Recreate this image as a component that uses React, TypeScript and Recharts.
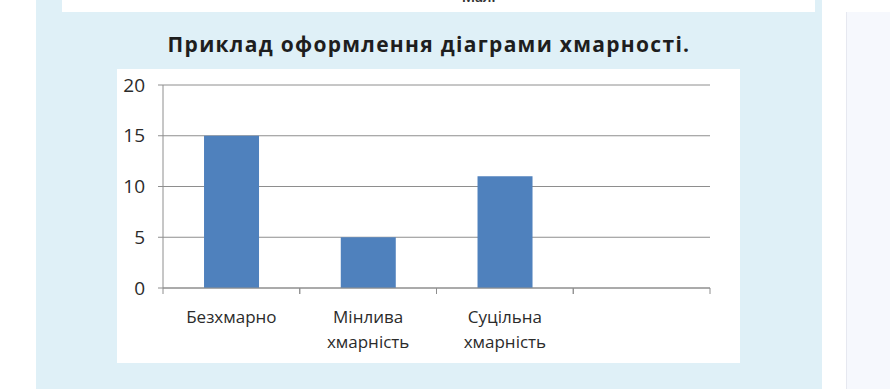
import React from 'react';
import { BarChart, Bar, XAxis, YAxis, CartesianGrid } from 'recharts';

const categories = ['Безхмарно', 'Мінлива хмарність', 'Суцільна хмарність', ''];
const values: (number | null)[] = [15, 5, 11, null];
const yTicks = [0, 5, 10, 15, 20];
const title = 'Приклад оформлення діаграми хмарності.';

const data = categories.map((c, i) => ({ name: c, value: values[i] }));

const CHART_W = 623;
const CHART_H = 294;
const MARGIN = { top: 16, right: 30, left: 0, bottom: 0 };
const Y_W = 46;
const PLOT_W = CHART_W - MARGIN.right - Y_W;
const BAND = PLOT_W / categories.length;
const FONT = '"Open Sans", sans-serif';
const GRID = '#8e8e8e';

const XTick = (props: any) => {
  const { x, y, payload } = props;
  const words = String(payload.value).split(' ').filter((w) => w.length);
  return (
    <g>
      <line x1={x - BAND / 2} x2={x - BAND / 2} y1={y - 8} y2={y - 2} stroke={GRID} />
      <line x1={x + BAND / 2} x2={x + BAND / 2} y1={y - 8} y2={y - 2} stroke={GRID} />
      {words.map((w, i) => (
        <text key={i} x={x} y={y + 27 + i * 25} textAnchor="middle" fontSize={17} fill="#2b2b2b" fontFamily={FONT}>
          {w}
        </text>
      ))}
    </g>
  );
};

export default function App() {
  return (
    <div style={{ position: 'absolute', left: 0, top: 0, width: 890, height: 389, background: '#ffffff', overflow: 'hidden' }}>
      <div style={{ position: 'absolute', left: 36, top: 0, width: 786, height: 389, background: '#dff0f7' }} />
      <div style={{ position: 'absolute', left: 62, top: 0, width: 753, height: 12, background: '#ffffff', overflow: 'hidden' }}>
        <div style={{ position: 'absolute', left: 400, top: -12, fontFamily: 'Inter, sans-serif', fontSize: 14, fontWeight: 600, color: '#333' }}>Мал.</div>
      </div>
      <div style={{ position: 'absolute', left: 846, top: 12, width: 1, height: 377, background: '#e6e8f0' }} />
      <div style={{ position: 'absolute', left: 847, top: 12, width: 43, height: 377, background: '#f6f8fd' }} />
      <div style={{ position: 'absolute', left: 36, top: 29, width: 786, textAlign: 'center', fontFamily: '"Open Sans", sans-serif', fontWeight: 700, fontSize: 21, letterSpacing: 1.3, color: '#1e1e1e', lineHeight: '30px' }}>
        {title}
      </div>
      <div style={{ position: 'absolute', left: 117, top: 69, width: CHART_W, height: CHART_H, background: '#ffffff' }}>
        <BarChart width={CHART_W} height={CHART_H} data={data} margin={MARGIN} barCategoryGap="30%">
          <CartesianGrid vertical={false} stroke={GRID} strokeDasharray="" />
          <XAxis
            dataKey="name"
            height={75}
            axisLine={{ stroke: GRID }}
            tickLine={false}
            tick={<XTick />}
            interval={0}
          />
          <YAxis
            width={Y_W}
            domain={[0, 20]}
            ticks={yTicks}
            axisLine={{ stroke: GRID }}
            tickLine={{ stroke: GRID }}
            tickSize={5}
            tickMargin={13}
            tick={{ fontSize: 19, fill: '#2b2b2b', fontFamily: FONT }}
          />
          <Bar dataKey="value" fill="#4f81bd" isAnimationActive={false} />
        </BarChart>
      </div>
    </div>
  );
}
